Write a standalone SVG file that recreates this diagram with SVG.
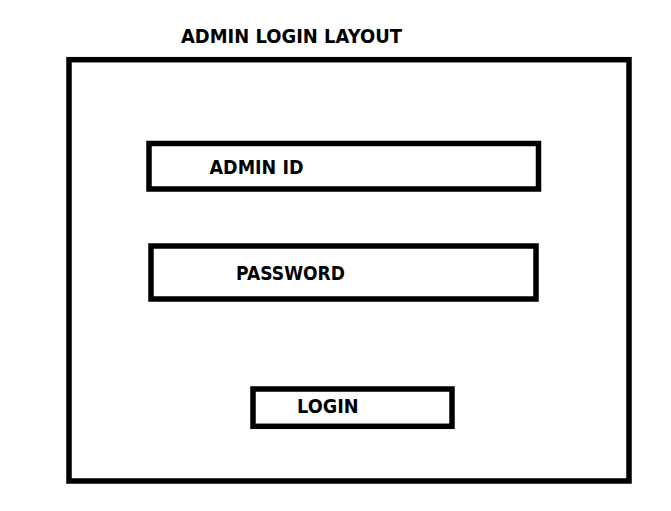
<svg xmlns="http://www.w3.org/2000/svg" width="671" height="511" viewBox="0 0 671 511">
<style>
.box{fill:none;stroke:#000;stroke-width:5.5}
.lbl{font-family:"DejaVu Sans","Liberation Sans",sans-serif;font-weight:bold;font-size:19px;fill:#000}
</style>
<rect width="671" height="511" fill="#fff"/>
<g id="title"><text class="lbl" x="181" y="43.3" textLength="221" lengthAdjust="spacingAndGlyphs">ADMIN LOGIN LAYOUT</text></g>
<g id="frame"><rect class="box" x="69" y="59.7" width="560" height="421.3"/></g>
<g id="admin-id"><rect class="box" x="149" y="143.5" width="389.5" height="45.5"/><text class="lbl" x="209.5" y="174.3" textLength="94" lengthAdjust="spacingAndGlyphs">ADMIN ID</text></g>
<g id="password"><rect class="box" x="151" y="246" width="385" height="53"/><text class="lbl" x="236" y="280" textLength="109" lengthAdjust="spacingAndGlyphs">PASSWORD</text></g>
<g id="login"><rect class="box" x="253" y="389" width="199" height="37.3"/><text class="lbl" x="297" y="413.3" textLength="61.5" lengthAdjust="spacingAndGlyphs">LOGIN</text></g>
<g id="connectors"/>
</svg>
